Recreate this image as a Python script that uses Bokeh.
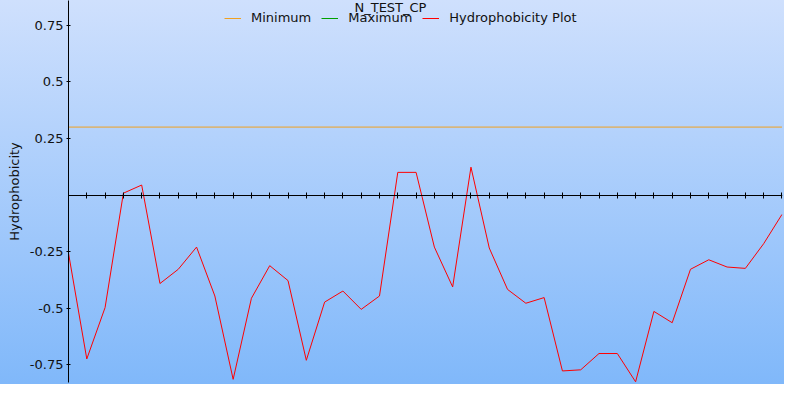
from bokeh.plotting import figure
from bokeh.models import (Range1d, LinearAxis, FixedTicker, Legend, LegendItem,
                          Label, InlineStyleSheet)
from bokeh.embed import file_html
from bokeh.resources import INLINE

# ---- data ----
title_text = "N_TEST_CP"
residue = list(range(40))
hydrophobicity = [-0.257, -0.724, -0.497, 0.008, 0.044, -0.391, -0.328, -0.230,
                  -0.446, -0.814, -0.456, -0.312, -0.378, -0.730, -0.473, -0.424,
                  -0.505, -0.446, 0.100, 0.100, -0.230, -0.406, 0.123, -0.234,
                  -0.417, -0.478, -0.453, -0.777, -0.772, -0.700, -0.700, -0.825,
                  -0.514, -0.564, -0.328, -0.286, -0.318, -0.324, -0.215, -0.086]
minimum_level = 0.30
maximum_level = float("nan")   # not visible in the reference
ytick_values = [-0.75, -0.5, -0.25, 0.25, 0.5, 0.75]
ytick_labels = ["-0.75", "-0.5", "-0.25", "0.25", "0.5", "0.75"]
legend_labels = ["Minimum", "Maximum", "Hydrophobicity Plot"]

FONT = "DejaVu Sans"

p = figure(width=784, height=384, output_backend="svg", toolbar_location=None,
           x_range=Range1d(0, 39.03), y_range=Range1d(-0.828, 0.859),
           x_axis_location=None,
           min_border_left=68, min_border_right=2, min_border_top=0, min_border_bottom=2,
           background_fill_color=None, border_fill_color=None, outline_line_color=None)
p.stylesheets = [InlineStyleSheet(css=":host{background:linear-gradient(to bottom,#cfe0fd,#80b8fa);}")]
p.xgrid.visible = False
p.ygrid.visible = False

# y axis
ya = p.yaxis[0]
ya.ticker = FixedTicker(ticks=ytick_values)
ya.major_label_overrides = {v: l for v, l in zip(ytick_values, ytick_labels)}
ya.minor_tick_line_color = None
ya.major_tick_in = 2
ya.major_tick_out = 2
ya.major_label_standoff = 3
ya.major_label_text_font = FONT
ya.major_label_text_font_size = "13px"
ya.major_label_text_color = "#111111"
ya.axis_label = "Hydrophobicity"
ya.axis_label_text_font = FONT
ya.axis_label_text_font_size = "13px"
ya.axis_label_text_font_style = "normal"
ya.axis_label_text_color = "#111111"
ya.axis_label_standoff = 5
ya.axis_line_color = "black"
ya.major_tick_line_color = "black"

# x axis along zero (ticks only, no labels)
xa = LinearAxis(fixed_location=0, ticker=FixedTicker(ticks=residue[1:]),
                major_tick_in=3, major_tick_out=3, minor_tick_line_color=None,
                major_label_text_color=None, major_label_standoff=0,
                axis_line_color="black", major_tick_line_color="black")
p.add_layout(xa, "below")

# series
r_min = p.line(x=[residue[0], residue[-1]], y=[minimum_level, minimum_level],
               line_color="#f0a020", line_width=1)
r_max = p.line(x=[residue[0]], y=[maximum_level], line_color="#00a000", line_width=1)
r_h = p.line(x=residue, y=hydrophobicity, line_color="#ff0000", line_width=1)

legend = Legend(items=[LegendItem(label=legend_labels[0], renderers=[r_min]),
                       LegendItem(label=legend_labels[1], renderers=[r_max]),
                       LegendItem(label=legend_labels[2], renderers=[r_h])],
                orientation="horizontal", location=(156, 357),
                background_fill_alpha=0, border_line_color=None,
                label_text_font=FONT, label_text_font_size="13px",
                label_text_color="#111111",
                glyph_width=17, glyph_height=12, label_standoff=10, spacing=10,
                padding=0, margin=0)
p.add_layout(legend, "center")

p.add_layout(Label(x=17.6, y=0.827, text=title_text, text_align="center",
                   text_baseline="alphabetic", text_font=FONT, text_font_size="13px",
                   text_color="#111111"))

open("out.html", "w").write(file_html(p, INLINE))
